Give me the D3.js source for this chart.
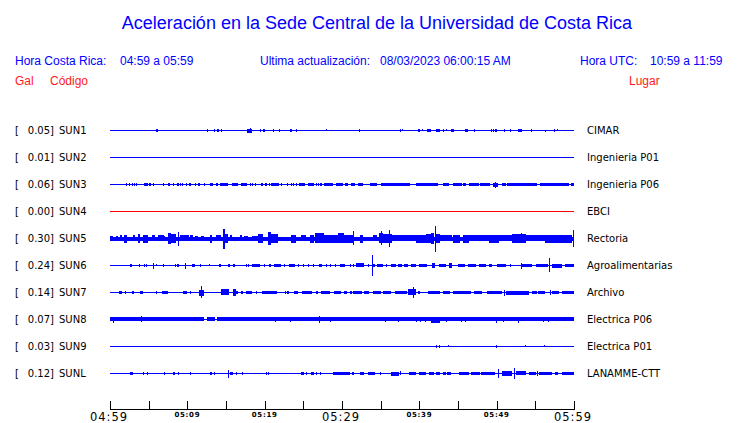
<!DOCTYPE html>
<html><head><meta charset="utf-8">
<script src="https://cdn.jsdelivr.net/npm/d3@7"></script>
<style>body{margin:0;background:#fff}svg{display:block}</style>
</head><body>
<script>
// ---------- data ----------
const stations = ["SUN1","SUN2","SUN3","SUN4","SUN5","SUN6","SUN7","SUN8","SUN9","SUNL"];
const peakGal  = [0.05,0.01,0.06,0.00,0.30,0.24,0.14,0.07,0.03,0.12];
const places   = ["CIMAR","Ingenieria P01","Ingenieria P06","EBCI","Rectoria","Agroalimentarias","Archivo","Electrica P06","Electrica P01","LANAMME-CTT"];
const tickMinutes = [0,5,10,15,20,25,30,35,40,45,50,55,60];
const tickLabels  = ["04:59","","05:09","","05:19","","05:29","","05:39","","05:49","","05:59"];
const majorLabels = ["04:59","05:29","05:59"];
// bursts: [start minute, end minute, peak acceleration (Gal)]
const sun1 = [[6.0,6.2,0.03],[12.6,12.6,0.03],[13.5,13.5,0.025],[13.8,14.0,0.03],[14.4,14.4,0.025],[17.7,18.4,0.035],[18.1,18.1,0.05],[19.4,19.4,0.02],[19.8,20.0,0.03],[21.1,21.1,0.025],[21.8,21.8,0.025],[23.3,23.5,0.03],[24.0,24.0,0.025],[27.9,27.9,0.015],[32.2,32.2,0.025],[37.5,37.5,0.02],[37.8,37.8,0.015],[39.8,39.8,0.025],[40.0,40.0,0.02],[40.4,40.4,0.015],[41.0,41.5,0.03],[42.2,42.7,0.03],[43.0,43.0,0.02],[43.5,43.5,0.015],[44.1,44.5,0.03],[45.9,46.3,0.03],[47.1,47.1,0.025],[49.3,49.3,0.025],[49.5,49.5,0.02],[49.8,50.0,0.03],[50.9,50.9,0.03],[51.7,51.7,0.02],[52.8,53.3,0.03],[54.4,54.4,0.03],[56.2,56.2,0.01],[57.4,57.4,0.02],[57.8,57.8,0.015]];
const sun2 = [];
const sun3 = [[2.1,2.1,0.025],[2.5,2.5,0.025],[2.9,2.9,0.02],[3.1,3.1,0.025],[3.4,3.5,0.03],[4.4,4.9,0.03],[5.1,5.4,0.03],[5.6,5.6,0.025],[6.9,6.9,0.025],[7.5,7.7,0.03],[8.2,8.2,0.025],[8.6,8.8,0.03],[9.0,9.0,0.02],[9.3,9.3,0.025],[9.85,9.85,0.02],[10.2,10.5,0.03],[11.0,11.0,0.025],[11.4,11.6,0.03],[12.2,12.2,0.025],[12.9,12.9,0.02],[13.1,13.4,0.03],[13.7,14.0,0.03],[14.2,15.2,0.03],[15.8,16.6,0.03],[17.0,17.8,0.03],[18.1,18.1,0.025],[18.4,18.4,0.025],[18.75,18.75,0.02],[19.5,19.7,0.03],[20.0,20.3,0.03],[20.6,20.6,0.025],[20.8,21.8,0.03],[22.1,22.1,0.025],[22.9,22.9,0.025],[23.35,23.35,0.025],[23.7,23.7,0.02],[24.0,24.0,0.025],[24.5,25.25,0.03],[25.55,26.3,0.03],[26.7,26.7,0.025],[26.9,26.9,0.025],[27.1,27.4,0.03],[27.7,28.9,0.03],[29.2,30.1,0.03],[30.45,30.9,0.03],[31.1,31.6,0.03],[32.1,32.8,0.03],[33.6,34.5,0.03],[35.1,38.8,0.03],[39.6,42.5,0.03],[43.1,43.9,0.03],[44.3,45.5,0.03],[45.7,46.15,0.03],[46.4,47.7,0.03],[47.9,49.25,0.03],[49.5,50.15,0.035],[49.75,49.8,0.055],[50.7,51.2,0.03],[51.4,55.3,0.03],[55.6,59.35,0.03],[59.65,60.0,0.03]];
const sun4 = [];
const sun5 = [[0,60,0.035],[0.0,0.4,0.05],[0.8,1.1,0.05],[1.3,1.6,0.065],[1.85,2.3,0.08],[3.0,3.3,0.065],[3.65,3.9,0.1],[4.3,4.95,0.08],[5.4,5.8,0.065],[6.15,6.9,0.065],[6.9,7.2,0.05],[7.5,7.95,0.12],[7.95,8.6,0.1],[8.75,8.9,0.155],[9.0,10.1,0.065],[10.3,10.75,0.065],[11.0,11.4,0.05],[11.8,12.25,0.045],[12.9,13.2,0.08],[13.75,14.4,0.065],[14.6,14.9,0.23],[14.9,15.25,0.1],[15.5,15.8,0.065],[16.8,17.1,0.065],[17.3,17.85,0.05],[18.3,19.1,0.05],[19.2,19.9,0.1],[20.4,20.85,0.145],[20.85,21.7,0.1],[23.4,24.1,0.08],[24.7,25.4,0.065],[25.9,26.4,0.08],[26.5,27.7,0.11],[27.7,29.5,0.08],[29.5,30.3,0.11],[30.1,31.4,0.08],[31.45,31.5,0.16],[32.3,32.7,0.08],[34.0,34.5,0.065],[34.8,35.3,0.11],[35.0,35.1,0.16],[35.3,36.5,0.1],[36.1,36.15,0.2],[36.5,39.6,0.065],[39.6,40.9,0.08],[40.9,41.5,0.1],[41.5,41.85,0.12],[42.0,42.05,0.30],[42.1,42.6,0.1],[42.6,44.3,0.065],[44.3,45.2,0.08],[45.6,46.4,0.08],[46.4,49.0,0.065],[49.0,50.3,0.08],[50.3,52.0,0.065],[52.0,53.8,0.1],[53.1,53.15,0.11],[53.8,56.3,0.065],[56.3,59.8,0.08],[59.85,59.95,0.19]];
const sun6 = [[2.6,2.9,0.03],[3.8,3.8,0.025],[4.4,4.4,0.025],[4.7,4.7,0.02],[5.5,5.65,0.03],[5.5,5.55,0.055],[5.9,5.9,0.015],[6.9,6.9,0.025],[8.4,8.4,0.025],[8.65,8.65,0.025],[8.8,8.8,0.02],[9.7,9.85,0.03],[9.75,9.8,0.055],[10.6,11.0,0.03],[11.7,11.7,0.025],[12.8,12.8,0.015],[14.1,14.3,0.03],[15.3,15.6,0.03],[15.9,16.1,0.03],[17.6,17.6,0.025],[17.9,17.9,0.025],[18.3,19.35,0.03],[19.95,19.95,0.025],[20.55,20.75,0.03],[21.15,22.05,0.03],[22.5,22.5,0.025],[23.1,23.9,0.03],[24.3,24.3,0.025],[25.0,25.0,0.025],[25.6,25.6,0.025],[26.2,26.35,0.03],[27.0,27.45,0.03],[27.95,27.95,0.025],[28.5,28.5,0.025],[29.15,29.15,0.025],[29.7,30.3,0.03],[31.0,31.0,0.025],[31.4,31.4,0.025],[31.8,32.8,0.04],[33.35,33.35,0.025],[33.85,33.85,0.24],[34.0,34.3,0.03],[34.5,35.3,0.03],[35.7,35.7,0.025],[36.4,37.0,0.03],[37.3,37.8,0.03],[38.0,38.5,0.03],[38.9,39.6,0.03],[39.9,40.9,0.03],[41.7,42.15,0.045],[42.6,43.45,0.03],[43.9,44.3,0.045],[44.95,45.8,0.03],[46.25,47.3,0.03],[47.75,48.6,0.03],[49.0,49.45,0.03],[50.1,51.2,0.03],[51.7,51.7,0.025],[53.1,53.1,0.06],[53.25,54.6,0.03],[55.05,56.55,0.03],[56.8,56.95,0.16],[57.2,58.5,0.035],[58.9,60.0,0.03]];
const sun7 = [[1.15,1.5,0.03],[1.95,1.95,0.025],[2.8,3.0,0.03],[3.9,4.3,0.03],[6.0,6.0,0.025],[6.7,7.5,0.03],[9.4,9.9,0.03],[10.3,10.3,0.025],[11.5,12.2,0.06],[11.8,11.9,0.14],[14.3,15.3,0.065],[15.85,16.2,0.07],[16.2,16.65,0.03],[17.0,17.3,0.03],[17.6,18.4,0.03],[18.9,18.9,0.025],[19.7,21.7,0.03],[22.6,22.6,0.025],[22.9,23.2,0.03],[23.8,24.3,0.03],[24.85,26.2,0.03],[26.65,26.9,0.03],[27.3,28.4,0.03],[29.0,29.9,0.03],[30.3,30.75,0.03],[31.0,31.2,0.03],[31.4,32.5,0.03],[32.9,33.55,0.03],[34.0,35.05,0.03],[35.3,36.35,0.03],[36.8,38.3,0.03],[38.5,39.55,0.065],[39.2,39.25,0.12],[39.8,40.0,0.03],[41.1,42.6,0.03],[43.0,43.85,0.03],[44.3,46.65,0.03],[47.1,48.15,0.03],[48.8,50.75,0.03],[50.9,51.0,0.055],[51.2,54.2,0.035],[54.6,55.25,0.03],[55.4,56.35,0.03],[56.85,56.95,0.05],[57.2,58.05,0.03],[58.5,60.0,0.03]];
const sun8 = [[0,12.15,0.04],[12.5,13.5,0.04],[13.9,60,0.04],[0.4,0.45,0.06],[4.05,4.1,0.065],[21.3,21.3,0.05],[23.25,23.25,0.045],[27.05,27.1,0.07],[28.5,28.5,0.05],[35.6,35.6,0.05],[37.2,37.2,0.05],[39.55,39.55,0.05],[40.1,40.1,0.05],[40.75,40.75,0.05],[41.5,42.6,0.055],[43.5,43.5,0.05],[45.4,45.4,0.05],[45.9,45.9,0.05],[49.9,49.9,0.055],[50.85,50.85,0.05],[52.7,52.7,0.055],[56.0,56.0,0.05],[56.7,56.7,0.05]];
const sun9 = [[42.15,42.15,0.02],[42.6,42.7,0.03],[43.65,43.65,0.015],[49.95,50.0,0.03],[53.6,53.6,0.015],[56.1,56.1,0.015]];
const sunl = [[2.6,3.0,0.03],[4.3,4.3,0.025],[4.75,4.75,0.025],[7.0,7.0,0.02],[8.15,8.45,0.03],[8.75,8.75,0.025],[10.35,10.35,0.02],[12.9,13.1,0.03],[13.45,13.45,0.025],[15.25,15.3,0.08],[15.5,15.9,0.03],[16.35,16.35,0.025],[17.05,17.1,0.03],[20.2,20.2,0.02],[20.45,20.45,0.02],[24.7,25.05,0.03],[25.4,25.4,0.025],[26.0,26.35,0.03],[26.65,26.65,0.025],[27.2,27.2,0.025],[28.8,30.95,0.03],[31.3,31.6,0.03],[32.35,32.9,0.03],[33.35,34.2,0.03],[34.85,34.85,0.025],[36.35,37.4,0.035],[37.55,37.55,0.04],[38.7,39.55,0.03],[40.0,40.85,0.03],[41.3,41.95,0.03],[42.15,42.7,0.03],[43.0,43.4,0.03],[43.6,44.1,0.03],[45.15,46.45,0.03],[46.65,47.75,0.03],[47.95,49.7,0.03],[50.2,50.25,0.1],[50.75,52.05,0.045],[52.3,52.35,0.12],[52.45,53.75,0.04],[54.2,55.05,0.03],[55.25,55.3,0.045],[55.5,57.2,0.03],[57.6,58.05,0.03],[58.5,60.0,0.03]];
const bursts = [sun1,sun2,sun3,sun4,sun5,sun6,sun7,sun8,sun9,sunl];

// ---------- drawing ----------
const W = 740, H = 423;
const svg = d3.select("body").append("svg").attr("width", W).attr("height", H);
const blue = "#0000ff", red = "#ff1a1a";
const fHead = "'Liberation Sans', Arial, sans-serif";
const fLab = "'DejaVu Sans', sans-serif";

svg.append("text").attr("x", 377).attr("y", 29).attr("text-anchor", "middle")
  .attr("font-family", fHead).attr("font-size", 18).attr("fill", blue)
  .text("Aceleración en la Sede Central de la Universidad de Costa Rica");

const head = [["Hora Costa Rica:",15],["04:59 a 05:59",120],["Ultima actualización:",260],["08/03/2023 06:00:15 AM",380],["Hora UTC:",580],["10:59 a 11:59",650]];
svg.selectAll("text.h").data(head).join("text").attr("class","h")
  .attr("x", d => d[1]).attr("y", 65).attr("font-family", fHead).attr("font-size", 12)
  .attr("fill", blue).text(d => d[0]);
const head2 = [["Gal",15],["Código",50],["Lugar",629]];
svg.selectAll("text.h2").data(head2).join("text").attr("class","h2")
  .attr("x", d => d[1]).attr("y", 85).attr("font-family", fHead).attr("font-size", 12)
  .attr("fill", red).text(d => d[0]);

const x = d3.scaleLinear().domain([0, 60]).range([110, 574]);
const row = d3.scalePoint().domain(stations).range([130, 373]);
const amp = d3.scaleLinear().domain([0, 0.3]).range([0, 12.3]);

const g = svg.append("g").attr("shape-rendering", "crispEdges");
stations.forEach((s, i) => {
  const cy = row(s);
  const col = s === "SUN4" ? "#ff0000" : blue;
  svg.append("text").attr("x", 15).attr("y", cy + 4).attr("font-family", fLab).attr("font-size", 10).attr("fill", "#000").text("[");
  svg.append("text").attr("x", 54).attr("y", cy + 4).attr("text-anchor", "end").attr("font-family", fLab).attr("font-size", 10).attr("fill", "#000").text(peakGal[i].toFixed(2) + "]");
  svg.append("text").attr("x", 59).attr("y", cy + 4).attr("font-family", fLab).attr("font-size", 10).attr("fill", "#000").text(s);
  svg.append("text").attr("x", 587).attr("y", cy + 4).attr("font-family", fLab).attr("font-size", 10).attr("fill", "#000").text(places[i]);
  g.append("line").attr("x1", x(0)).attr("x2", x(60)).attr("y1", cy + 0.5).attr("y2", cy + 0.5)
    .attr("stroke", col).attr("stroke-width", 1);
  g.selectAll(null).data(bursts[i]).join("rect")
    .attr("x", d => Math.round(x(d[0])))
    .attr("width", d => Math.max(1, Math.round(x(d[1]) - x(d[0]))))
    .attr("y", d => Math.round(cy - amp(d[2])))
    .attr("height", d => Math.max(1, Math.round(2 * amp(d[2])) + 1))
    .attr("fill", col);
});

// time axis
const ax = svg.append("g").attr("transform", "translate(0,409)");
ax.append("line").attr("x1", x(0)).attr("x2", x(60) + 1).attr("y1", 0.5).attr("y2", 0.5).attr("stroke", "#000").attr("shape-rendering","crispEdges");
ax.selectAll("line.t").data(tickMinutes).join("line").attr("class","t")
  .attr("x1", d => Math.round(x(d)) + 0.5).attr("x2", d => Math.round(x(d)) + 0.5)
  .attr("y1", -8).attr("y2", 0.5).attr("stroke", "#000").attr("shape-rendering","crispEdges");
const lab = tickMinutes.map((m, i) => [m, tickLabels[i]]).filter(d => d[1]);
ax.selectAll("text.big").data(lab.filter(d => majorLabels.includes(d[1]))).join("text").attr("class","big")
  .attr("x", d => x(d[0]) - 1).attr("y", 11.5).attr("text-anchor", "middle")
  .attr("font-family", fLab).attr("font-size", 11.5).attr("letter-spacing", 1)
  .attr("fill", "#000").text(d => d[1]);
ax.selectAll("text.small").data(lab.filter(d => !majorLabels.includes(d[1]))).join("text").attr("class","small")
  .attr("x", d => x(d[0])).attr("y", 8).attr("text-anchor", "middle")
  .attr("font-family", fLab).attr("font-size", 7).attr("font-weight", "bold").attr("letter-spacing", 0.7)
  .attr("fill", "#000").text(d => d[1]);
</script>
</body></html>
